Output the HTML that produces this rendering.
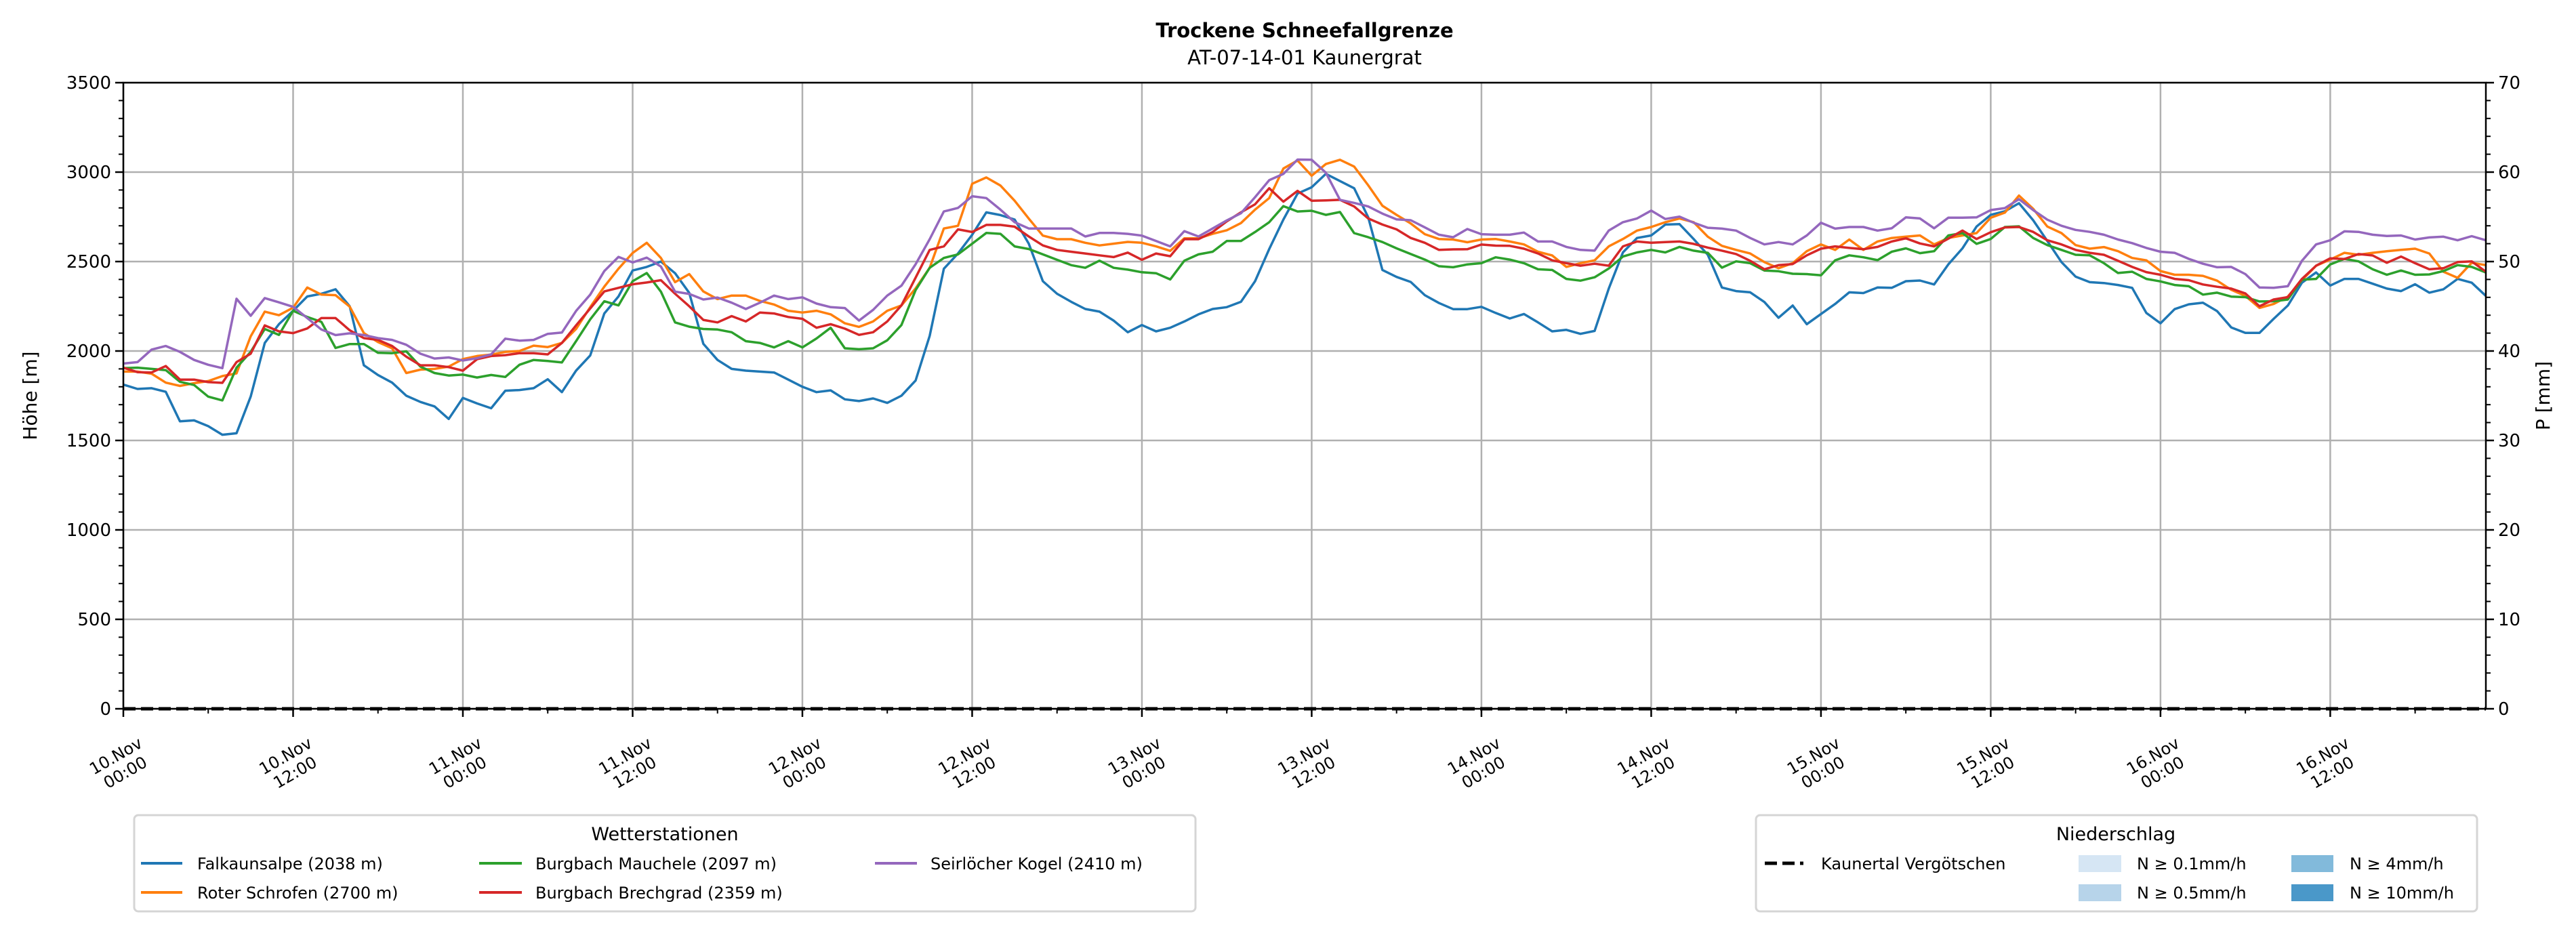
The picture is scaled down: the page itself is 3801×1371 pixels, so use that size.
<!DOCTYPE html>
<html><head><meta charset="utf-8"><style>
html,body{margin:0;padding:0;background:#fff;}
svg{display:block;font-family:"DejaVu Sans","Liberation Sans",sans-serif;}
</style></head>
<body>
<svg id="chart" width="3801" height="1371" viewBox="0 0 3801 1371" xmlns="http://www.w3.org/2000/svg">
<rect x="0" y="0" width="3801" height="1371" fill="#fff"/>
<text x="1925" y="55" font-size="29" font-weight="bold" text-anchor="middle">Trockene Schneefallgrenze</text>
<text x="1925" y="95" font-size="29" text-anchor="middle">AT-07-14-01 Kaunergrat</text>
<g id="grid"></g>
<g id="series"></g>
<g id="axes"></g>
<text transform="translate(54,584) rotate(-90)" font-size="28" text-anchor="middle">Höhe [m]</text>
<text transform="translate(3762,584) rotate(-90)" font-size="28" text-anchor="middle">P [mm]</text>

<g>
<rect x="198" y="1203" width="1566" height="142" rx="6" fill="#fff" stroke="#d5d5d5" stroke-width="3"/>
<text x="981" y="1240" font-size="27" text-anchor="middle">Wetterstationen</text>
<g><line x1="208" y1="1274" x2="269" y2="1274" stroke="#1f77b4" stroke-width="4"/><text x="291" y="1283" font-size="24">Falkaunsalpe (2038 m)</text></g>
<g><line x1="208" y1="1317" x2="269" y2="1317" stroke="#ff7f0e" stroke-width="4"/><text x="291" y="1326" font-size="24">Roter Schrofen (2700 m)</text></g>
<g><line x1="707" y1="1274" x2="770" y2="1274" stroke="#2ca02c" stroke-width="4"/><text x="790" y="1283" font-size="24">Burgbach Mauchele (2097 m)</text></g>
<g><line x1="707" y1="1317" x2="770" y2="1317" stroke="#d62728" stroke-width="4"/><text x="790" y="1326" font-size="24">Burgbach Brechgrad (2359 m)</text></g>
<g><line x1="1291" y1="1274" x2="1353" y2="1274" stroke="#9467bd" stroke-width="4"/><text x="1373" y="1283" font-size="24">Seirlöcher Kogel (2410 m)</text></g>
</g>

<g>
<rect x="2591" y="1203" width="1064" height="142" rx="6" fill="#fff" stroke="#d5d5d5" stroke-width="3"/>
<text x="3122" y="1240" font-size="27" text-anchor="middle">Niederschlag</text>
<g><line x1="2604" y1="1274" x2="2661" y2="1274" stroke="#000" stroke-width="5" stroke-dasharray="18 8"/><text x="2687" y="1283" font-size="24">Kaunertal Vergötschen</text></g>
<g><rect x="3067" y="1262" width="63" height="25" fill="#d6e6f4"/><text x="3153" y="1283" font-size="24">N ≥ 0.1mm/h</text></g>
<g><rect x="3067" y="1305" width="63" height="25" fill="#b7d4ea"/><text x="3153" y="1326" font-size="24">N ≥ 0.5mm/h</text></g>
<g><rect x="3381" y="1262" width="62" height="25" fill="#82badb"/><text x="3467" y="1283" font-size="24">N ≥ 4mm/h</text></g>
<g><rect x="3381" y="1305" width="62" height="25" fill="#4a98c9"/><text x="3467" y="1326" font-size="24">N ≥ 10mm/h</text></g>
</g>
</svg>
<script>
const falkaunsalpe = [1812,1788,1792,1772,1607,1612,1580,1532,1540,1745,2045,2150,2225,2305,2320,2345,2250,1920,1866,1823,1750,1715,1690,1620,1738,1707,1680,1778,1782,1792,1842,1770,1890,1975,2210,2305,2450,2470,2500,2435,2325,2040,1950,
1900,1890,1885,1880,1840,1800,1770,1780,1730,1720,1735,1710,1750,1835,2085,2460,2545,2650,2775,2760,2735,2600,2390,2320,2275,2235,2220,2170,2105,2145,2110,2130,2165,2205,2235,2245,2275,2390,2570,2735,2880,
2915,2990,2950,2910,2747,2453,2414,2386,2312,2268,2234,2234,2247,2213,2182,2207,2160,2110,2118,2096,2112,2349,2551,2632,2646,2707,2709,2626,2538,2355,2335,2328,2274,2186,2254,2150,2207,2263,2328,2324,2355,2353,
2390,2394,2372,2484,2574,2696,2761,2781,2826,2731,2615,2497,2416,2385,2380,2369,2353,2213,2155,2234,2261,2270,2223,2132,2101,2101,2180,2254,2382,2439,2366,2403,2403,2376,2349,2335,2373,2326,2345,2403,2382,2308];
const roterSchrofen = [1885,1885,1873,1823,1805,1820,1832,1860,1875,2082,2220,2200,2242,2355,2315,2312,2248,2100,2050,2015,1877,1896,1900,1913,1955,1972,1980,1995,2000,2030,2022,2045,2123,2245,2360,2460,2548,2605,2520,2385,2430,2333,2290,
2310,2310,2280,2260,2225,2215,2225,2205,2155,2135,2165,2225,2255,2350,2465,2685,2700,2935,2970,2925,2840,2740,2645,2625,2625,2605,2590,2600,2610,2605,2585,2560,2630,2630,2655,2675,2715,2790,2855,3020,3065,
2980,3045,3069,3031,2926,2812,2761,2713,2653,2626,2623,2608,2623,2626,2612,2596,2555,2534,2470,2491,2507,2585,2626,2673,2693,2720,2741,2720,2639,2588,2565,2545,2497,2463,2491,2558,2596,2565,2623,2565,2612,2632,
2639,2646,2596,2632,2646,2659,2745,2774,2869,2795,2696,2659,2592,2572,2581,2558,2520,2507,2447,2426,2426,2420,2393,2342,2308,2241,2263,2304,2396,2477,2511,2549,2538,2549,2558,2565,2572,2545,2443,2409,2493,2480];
const burgbachMauchele = [1904,1907,1900,1893,1828,1810,1745,1724,1907,1995,2123,2090,2225,2190,2163,2017,2039,2039,1990,1988,1998,1913,1877,1863,1868,1852,1866,1855,1923,1950,1944,1936,2055,2177,2278,2255,2390,2436,2332,2160,2136,2123,2120,
2105,2055,2045,2020,2055,2020,2070,2130,2015,2010,2015,2060,2145,2340,2465,2520,2540,2600,2660,2655,2585,2570,2540,2510,2480,2465,2505,2465,2455,2440,2435,2400,2505,2540,2555,2615,2615,2665,2720,2810,2780,
2784,2761,2777,2659,2636,2609,2574,2542,2511,2474,2468,2484,2491,2524,2511,2491,2457,2453,2403,2393,2412,2461,2528,2551,2565,2551,2582,2561,2549,2466,2501,2491,2450,2446,2432,2430,2423,2507,2535,2524,2508,2555,
2574,2547,2558,2646,2659,2599,2626,2693,2697,2632,2592,2565,2538,2535,2491,2436,2443,2403,2389,2369,2362,2315,2326,2304,2301,2277,2278,2288,2399,2403,2484,2515,2501,2457,2426,2450,2426,2428,2447,2480,2470,2439];
const burgbachBrechgrad = [1907,1882,1880,1916,1840,1840,1826,1822,1938,1985,2143,2110,2100,2126,2184,2184,2116,2072,2062,2028,1968,1920,1920,1910,1890,1954,1972,1977,1988,1988,1981,2045,2143,2238,2333,2353,2373,2383,2396,2320,2250,2174,2160,
2195,2165,2215,2210,2190,2180,2130,2150,2125,2090,2105,2165,2255,2410,2565,2585,2680,2665,2705,2705,2695,2640,2590,2565,2555,2545,2535,2525,2550,2510,2545,2530,2625,2625,2665,2725,2775,2820,2910,2835,2895,
2840,2842,2845,2808,2741,2707,2680,2632,2605,2565,2568,2569,2595,2589,2588,2572,2545,2507,2491,2477,2488,2477,2585,2612,2605,2609,2612,2599,2578,2561,2542,2504,2457,2480,2486,2535,2572,2585,2576,2569,2582,2612,
2630,2601,2585,2628,2673,2626,2664,2691,2693,2666,2619,2596,2565,2549,2538,2504,2470,2441,2426,2403,2396,2372,2359,2349,2322,2250,2288,2301,2403,2477,2518,2514,2542,2534,2493,2528,2491,2457,2463,2497,2501,2443];
const seirloecherKogel = [1930,1938,2008,2028,1995,1950,1923,1904,2292,2197,2296,2272,2247,2184,2120,2089,2099,2089,2072,2062,2035,1985,1958,1964,1947,1960,1981,2069,2058,2062,2096,2103,2224,2315,2447,2526,2495,2522,2472,2332,2319,2288,2299,
2270,2235,2270,2310,2290,2300,2265,2245,2240,2170,2230,2310,2365,2485,2625,2780,2800,2865,2855,2790,2720,2685,2685,2685,2685,2640,2660,2660,2655,2645,2615,2585,2670,2640,2685,2730,2770,2860,2955,2990,3070,
3069,2997,2845,2828,2808,2768,2736,2731,2691,2650,2636,2682,2653,2650,2650,2662,2612,2612,2582,2565,2561,2673,2720,2741,2785,2738,2751,2717,2689,2684,2673,2632,2596,2609,2596,2646,2717,2684,2693,2693,2673,2686,
2747,2741,2686,2745,2745,2747,2788,2799,2849,2788,2734,2700,2677,2666,2650,2623,2603,2576,2555,2549,2515,2488,2468,2470,2430,2355,2353,2362,2504,2596,2619,2669,2666,2650,2643,2646,2623,2635,2639,2619,2642,2619];
const precipKaunertal = [0,0];
const xTickLabels = ["10.Nov|00:00","10.Nov|12:00","11.Nov|00:00","11.Nov|12:00","12.Nov|00:00","12.Nov|12:00","13.Nov|00:00","13.Nov|12:00","14.Nov|00:00","14.Nov|12:00","15.Nov|00:00","15.Nov|12:00","16.Nov|00:00","16.Nov|12:00"];
const yTicks = [0,500,1000,1500,2000,2500,3000,3500];
const y2Ticks = [0,10,20,30,40,50,60,70];

const NS="http://www.w3.org/2000/svg";
const L=182,R=3668,T=122,B=1046,HMAX=167,YMAX=3500,PMAX=70;
const xs=h=>L+(R-L)*h/HMAX;
const ys=v=>B-(B-T)*v/YMAX;
const ps=p=>B-(B-T)*p/PMAX;
function mk(tag,attrs,parent){const e=document.createElementNS(NS,tag);for(const k in attrs)e.setAttribute(k,attrs[k]);parent.appendChild(e);return e;}
const grid=document.getElementById('grid'),axes=document.getElementById('axes'),ser=document.getElementById('series');

xTickLabels.forEach((lab,i)=>{
  const x=xs(i*12);
  const gl=mk('line',{x1:x,y1:T,x2:x,y2:B,stroke:'#b0b0b0','stroke-width':2.5},grid);
  
  
  const tk=mk('line',{x1:x,y1:B,x2:x,y2:B+12,stroke:'#000','stroke-width':2.5},axes);
  
  
  const g=mk('g',{transform:`translate(${x-4},1128) rotate(-30)`,'font-size':24,'text-anchor':'middle'},axes);
  
  
  const parts=lab.split('|');
  mk('text',{x:0,y:-6},g).textContent=parts[0];
  mk('text',{x:0,y:22},g).textContent=parts[1];
  const mx=xs(i*12+6);
  if(i*12+6<HMAX){const m=mk('line',{x1:mx,y1:B,x2:mx,y2:B+7,stroke:'#000','stroke-width':2},axes);
  
  }
});
yTicks.forEach(v=>{
  const y=ys(v);
  const gl=mk('line',{x1:L,y1:y,x2:R,y2:y,stroke:'#b0b0b0','stroke-width':2.5},grid);
  
  
  mk('line',{x1:L-12,y1:y,x2:L,y2:y,stroke:'#000','stroke-width':2.5},axes);
  const t=mk('text',{x:L-18,y:y+9,'font-size':26,'text-anchor':'end'},axes);
  
  
  t.textContent=v;
});
for(let v=100;v<YMAX;v+=100){if(v%500){const y=ys(v);mk('line',{x1:L-7,y1:y,x2:L,y2:y,stroke:'#000','stroke-width':2},axes);}}
y2Ticks.forEach(p=>{
  const y=ps(p);
  mk('line',{x1:R,y1:y,x2:R+12,y2:y,stroke:'#000','stroke-width':2.5},axes);
  const t=mk('text',{x:R+18,y:y+9,'font-size':26},axes);
  
  
  t.textContent=p;
});
for(let p=2;p<PMAX;p+=2){if(p%10){const y=ps(p);mk('line',{x1:R,y1:y,x2:R+7,y2:y,stroke:'#000','stroke-width':2},axes);}}

const seriesList=[[falkaunsalpe,'#1f77b4','line-falkaunsalpe'],[roterSchrofen,'#ff7f0e','line-roter-schrofen'],[burgbachMauchele,'#2ca02c','line-burgbach-mauchele'],[burgbachBrechgrad,'#d62728','line-burgbach-brechgrad'],[seirloecherKogel,'#9467bd','line-seirloecher-kogel']];
seriesList.forEach(([arr,col,name])=>{
  const d=arr.map((v,i)=>(i?'L':'M')+xs(i).toFixed(1)+' '+ys(v).toFixed(1)).join(' ');
  const p=mk('path',{d:d,fill:'none',stroke:col,'stroke-width':3.5,'stroke-linejoin':'round'},ser);
  
  
});
const pz=mk('line',{x1:xs(0),y1:ps(precipKaunertal[0]),x2:xs(HMAX),y2:ps(precipKaunertal[1]),stroke:'#000','stroke-width':5,'stroke-dasharray':'18 8'},ser);


const fr=mk('rect',{x:L,y:T,width:R-L,height:B-T,fill:'none',stroke:'#000','stroke-width':2.5},axes);


</script>
</body></html>
